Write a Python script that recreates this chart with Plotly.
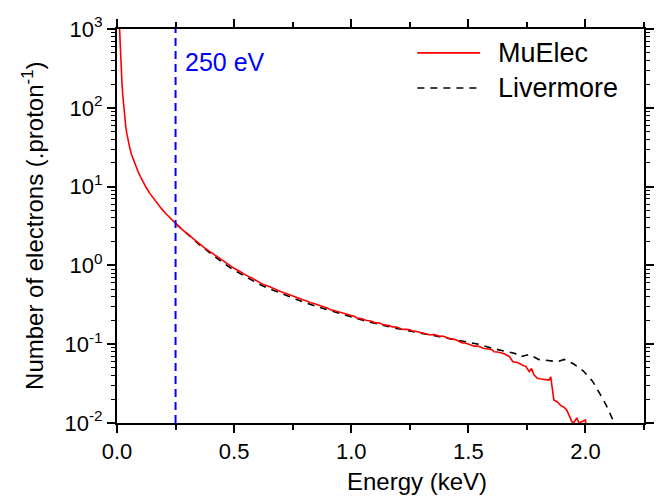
import plotly.graph_objects as go

# MuElec electron yield vs. energy (keV, electrons per proton)
muelec_energy = [
    0.011, 0.013, 0.015, 0.017, 0.019, 0.021, 0.024, 0.028, 0.032, 0.037,
    0.042, 0.048, 0.055, 0.062, 0.070, 0.080, 0.090, 0.100, 0.112, 0.125,
    0.140, 0.153, 0.170, 0.190, 0.210, 0.230, 0.250, 0.275,
    0.300, 0.325, 0.350, 0.375, 0.400, 0.425, 0.450, 0.475, 0.500, 0.525,
    0.550, 0.575, 0.600, 0.625, 0.650, 0.675, 0.700, 0.725, 0.750, 0.775,
    0.800, 0.8125, 0.825, 0.8375, 0.850, 0.8625, 0.875, 0.8875, 0.900, 0.9125,
    0.925, 0.9375, 0.950, 0.9625, 0.975, 0.9875, 1.000, 1.0125, 1.025, 1.0375,
    1.050, 1.0625, 1.075, 1.0875, 1.100, 1.1125, 1.125, 1.1375, 1.150, 1.1625,
    1.175, 1.1875, 1.200, 1.2125, 1.225, 1.2375, 1.250, 1.2625, 1.275, 1.2875,
    1.300, 1.3125, 1.325, 1.3375, 1.350, 1.3625, 1.375, 1.3875, 1.400, 1.4125,
    1.425, 1.4375, 1.450, 1.4625, 1.475, 1.4875, 1.500, 1.5125, 1.525, 1.5375,
    1.550, 1.5625, 1.575, 1.5875, 1.600, 1.610, 1.625, 1.650, 1.675, 1.690,
    1.710, 1.730, 1.746, 1.760, 1.770, 1.780, 1.795, 1.810, 1.830, 1.844,
    1.852, 1.858, 1.865, 1.880, 1.895, 1.907, 1.920, 1.930, 1.942, 1.950,
    1.963, 1.972, 1.985, 2.000, 2.002,
]
muelec_counts = [
    1000, 684, 490, 363, 275, 214, 153, 106, 78.9, 58.9,
    47.0, 37.8, 30.6, 25.6, 21.8, 18.2, 15.5, 13.4, 11.3, 9.66,
    8.20, 7.23, 6.21, 5.25, 4.49, 3.89, 3.41, 2.91,
    2.51, 2.17, 1.90, 1.66, 1.47, 1.31, 1.15, 1.01, 0.918, 0.838,
    0.752, 0.693, 0.630, 0.571, 0.541, 0.500, 0.462, 0.438, 0.409, 0.379,
    0.360, 0.352, 0.336, 0.331, 0.321, 0.306, 0.297, 0.294, 0.286, 0.273,
    0.268, 0.262, 0.252, 0.250, 0.243, 0.234, 0.231, 0.226, 0.215, 0.214,
    0.209, 0.201, 0.199, 0.196, 0.188, 0.187, 0.184, 0.176, 0.174, 0.172,
    0.165, 0.166, 0.163, 0.156, 0.154, 0.155, 0.152, 0.147, 0.146, 0.143,
    0.139, 0.139, 0.136, 0.131, 0.1325, 0.131, 0.126, 0.127, 0.1245, 0.119,
    0.116, 0.116, 0.113, 0.107, 0.104, 0.1035, 0.1005, 0.096, 0.0945, 0.0945,
    0.093, 0.089, 0.0878, 0.0875, 0.0855, 0.080, 0.0795, 0.0760, 0.0700, 0.0600,
    0.0585, 0.0545, 0.0520, 0.0450, 0.0490, 0.0410, 0.0370, 0.0362, 0.0355, 0.0350,
    0.0385, 0.0300, 0.0196, 0.0185, 0.0166, 0.0160, 0.0146, 0.0126, 0.0104, 0.0100,
    0.0116, 0.0100, 0.0103, 0.0109, 0.0090,
]

# Livermore electron yield vs. energy
livermore_energy = [
    0.25, 0.30, 0.35, 0.40, 0.45, 0.50, 0.55, 0.60, 0.65, 0.70,
    0.75, 0.80, 0.85, 0.90, 0.95, 1.00, 1.05, 1.10, 1.15, 1.20,
    1.25, 1.30, 1.35, 1.40, 1.45, 1.50, 1.55, 1.60, 1.65, 1.70,
    1.72, 1.76, 1.80, 1.845, 1.88, 1.91, 1.95, 1.99, 2.03, 2.06,
    2.09, 2.12,
]
livermore_counts = [
    3.41, 2.48, 1.85, 1.42, 1.09, 0.870, 0.715, 0.592, 0.505, 0.440,
    0.385, 0.340, 0.303, 0.272, 0.245, 0.222, 0.201, 0.184, 0.169, 0.157,
    0.147, 0.137, 0.129, 0.121, 0.113, 0.106, 0.099, 0.089, 0.082, 0.076,
    0.069, 0.074, 0.064, 0.061, 0.060, 0.064, 0.056, 0.046, 0.034, 0.024,
    0.0165, 0.0105,
]

threshold_kev = 0.25

y_tick_vals = [0.01, 0.1, 1, 10, 100, 1000]
y_tick_text = ["10<sup>-2</sup>", "10<sup>-1</sup>", "10<sup>0</sup>",
               "10<sup>1</sup>", "10<sup>2</sup>", "10<sup>3</sup>"]
y_minor_vals = [m * 10 ** e for e in range(-2, 3) for m in range(2, 10)]

FONT = "Liberation Sans, Arial, sans-serif"

fig = go.Figure()
fig.add_trace(go.Scatter(
    x=livermore_energy, y=livermore_counts, mode="lines", name="Livermore",
    line=dict(color="black", width=1.6, dash="7px,6px"), showlegend=False,
))
fig.add_trace(go.Scatter(
    x=muelec_energy, y=muelec_counts, mode="lines", name="MuElec",
    line=dict(color="#ff0000", width=1.6), showlegend=False,
))

# Vertical marker at the 250 eV threshold
fig.add_vline(x=threshold_kev, line=dict(color="#0000ff", width=2, dash="8px,5px"))
fig.add_annotation(
    x=threshold_kev, y=0.915, xref="x", yref="paper", xshift=7,
    text=f"{threshold_kev * 1000:.0f} eV", showarrow=False,
    xanchor="left", yanchor="middle", font=dict(size=25, color="#0000ff", family=FONT),
)

# Legend drawn in the top-right corner
legend_rows = [("MuElec", "#ff0000", "solid", 0.9395), ("Livermore", "black", "7px,6px", 0.8503)]
for label, color, dash, yrow in legend_rows:
    fig.add_shape(type="line", xref="paper", yref="paper",
                  x0=0.570, x1=0.689, y0=yrow, y1=yrow,
                  line=dict(color=color, width=1.6, dash=dash))
    fig.add_annotation(x=0.719, y=yrow, xref="paper", yref="paper", text=label,
                       showarrow=False, xanchor="left", yanchor="middle",
                       font=dict(size=27, color="black", family=FONT))

# Axis titles
fig.add_annotation(x=0.570, y=-0.149, xref="paper", yref="paper", text="Energy (keV)",
                   showarrow=False, xanchor="center", yanchor="middle",
                   font=dict(size=24, color="black", family=FONT))
fig.add_annotation(x=-0.1595, y=0.5, xref="paper", yref="paper",
                   text="Number of electrons (.proton<sup>-1</sup>)", textangle=-90,
                   showarrow=False, xanchor="center", yanchor="middle",
                   font=dict(size=24, color="black", family=FONT))

axis_common = dict(
    showline=True, linecolor="black", linewidth=2, mirror="allticks",
    ticks="outside", ticklen=8, tickwidth=2, tickcolor="black",
    showgrid=False, zeroline=False,
    tickfont=dict(size=22, color="black", family=FONT),
)

fig.update_xaxes(
    range=[0, 2.25], tickmode="linear", tick0=0, dtick=0.5, tickformat=".1f",
    minor=dict(ticks="outside", ticklen=5, tickwidth=1.5, tickcolor="black",
               tickmode="linear", tick0=0, dtick=0.25, showgrid=False),
    **axis_common,
)
fig.update_yaxes(
    type="log", range=[-2, 3], tickvals=y_tick_vals, ticktext=y_tick_text,
    minor=dict(ticks="outside", ticklen=4, tickwidth=1.2, tickcolor="black",
               tickvals=y_minor_vals, showgrid=False),
    **axis_common,
)

fig.update_layout(
    width=659, height=496,
    margin=dict(l=117, r=5, t=29, b=73),
    plot_bgcolor="white", paper_bgcolor="white",
    font=dict(family=FONT, color="black"),
    showlegend=False,
)

fig.write_html("out.html")
